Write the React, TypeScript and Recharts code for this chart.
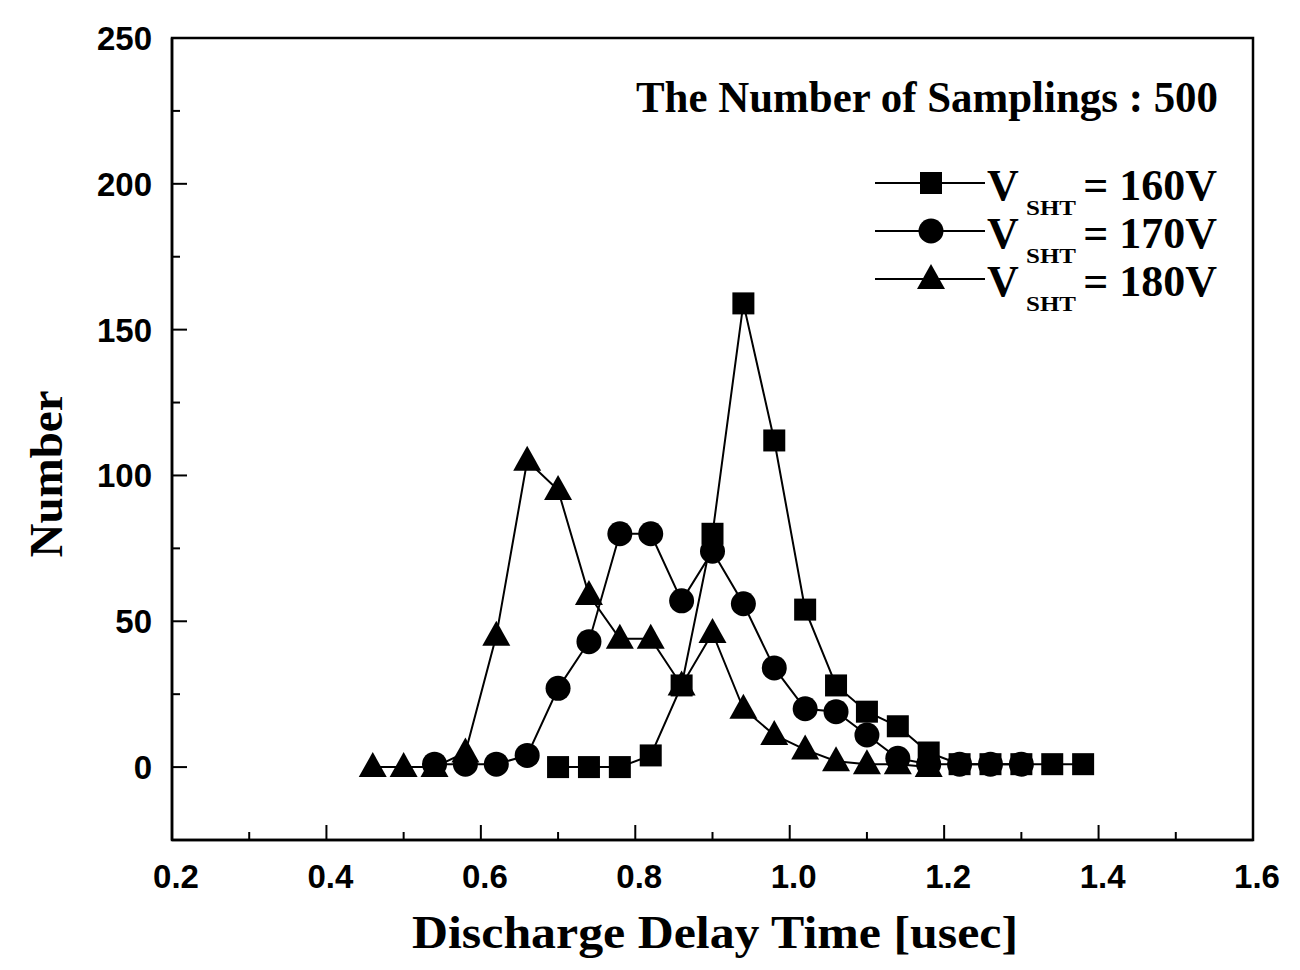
import React from 'react';
import { LineChart, Line, XAxis, YAxis, ReferenceArea } from 'recharts';

// delay time bins [usec]
const times160 = [0.7, 0.74, 0.78, 0.82, 0.86, 0.9, 0.94, 0.98, 1.02, 1.06, 1.1, 1.14, 1.18, 1.22, 1.26, 1.3, 1.34, 1.38];
const counts160 = [0, 0, 0, 4, 28, 80, 159, 112, 54, 28, 19, 14, 5, 1, 1, 1, 1, 1];

const times170 = [0.54, 0.58, 0.62, 0.66, 0.7, 0.74, 0.78, 0.82, 0.86, 0.9, 0.94, 0.98, 1.02, 1.06, 1.1, 1.14, 1.18, 1.22, 1.26, 1.3];
const counts170 = [1, 1, 1, 4, 27, 43, 80, 80, 57, 74, 56, 34, 20, 19, 11, 3, 1, 1, 1, 1];

const times180 = [0.46, 0.5, 0.54, 0.58, 0.62, 0.66, 0.7, 0.74, 0.78, 0.82, 0.86, 0.9, 0.94, 0.98, 1.02, 1.06, 1.1, 1.14, 1.18];
const counts180 = [0, 0, 0, 5, 45, 105, 95, 59, 44, 44, 28, 46, 20, 11, 6, 2, 1, 1, 0];

const xTicks = [0.2, 0.3, 0.4, 0.5, 0.6, 0.7, 0.8, 0.9, 1.0, 1.1, 1.2, 1.3, 1.4, 1.5, 1.6];
const yTicks = [0, 25, 50, 75, 100, 125, 150, 175, 200, 225, 250];

const legendLabels = ['160V', '170V', '180V'];
const title = 'The Number of Samplings : 500';

const toRows = (xs: number[], ys: number[]) => xs.map((t, i) => ({ t, n: ys[i] }));

const serif = '"Liberation Serif", "Times New Roman", serif';
const sans = '"Liberation Sans", Arial, sans-serif';

const Square = ({ cx, cy }: any) => <rect x={cx - 11} y={cy - 11} width={22} height={22} fill="#000" />;
const Circle = ({ cx, cy }: any) => <circle cx={cx} cy={cy} r={12.5} fill="#000" />;
const Triangle = ({ cx, cy }: any) => (
  <polygon points={`${cx},${cy - 15} ${cx - 14},${cy + 10} ${cx + 14},${cy + 10}`} fill="#000" />
);

const dotOf = (Shape: any) => (p: any) => <Shape key={`d-${p.index}`} cx={p.cx} cy={p.cy} />;

const XTick = ({ x, y, payload, index }: any) => {
  const major = index % 2 === 0;
  return (
    <g>
      <line x1={x} y1={y} x2={x} y2={y - (major ? 15 : 8)} stroke="#000" strokeWidth={2} />
      {major && (
        <text x={x + 4} y={y + 48} textAnchor="middle" fontFamily={sans} fontWeight="bold" fontSize={33} fill="#000">
          {Number(payload.value).toFixed(1)}
        </text>
      )}
    </g>
  );
};

const YTick = ({ x, y, payload }: any) => {
  const major = payload.value % 50 === 0;
  return (
    <g>
      <line x1={x} y1={y} x2={x + (major ? 15 : 8)} y2={y} stroke="#000" strokeWidth={2} />
      {major && (
        <text x={x - 20} y={y + 12} textAnchor="end" fontFamily={sans} fontWeight="bold" fontSize={33} fill="#000">
          {payload.value}
        </text>
      )}
    </g>
  );
};

const legendMarks = [Square, Circle, Triangle];

export default function App() {
  return (
    <div style={{ position: 'relative', width: 1284, height: 954 }}>
      <LineChart width={1284} height={954} margin={{ top: 30, right: 39, bottom: 62, left: 64 }}>
        <XAxis
          dataKey="t"
          type="number"
          domain={[0.2, 1.6]}
          ticks={xTicks}
          interval={0}
          allowDuplicatedCategory={false}
          height={60}
          tickSize={0}
          tickMargin={0}
          tickLine={false}
          axisLine={{ stroke: '#000', strokeWidth: 2.5 }}
          tick={<XTick />}
        />
        <YAxis
          type="number"
          domain={[-25, 250]}
          ticks={yTicks}
          interval={0}
          width={100}
          tickSize={0}
          tickMargin={0}
          tickLine={false}
          axisLine={{ stroke: '#000', strokeWidth: 2.5 }}
          tick={<YTick />}
        />
        <ReferenceArea x1={0.2} x2={1.6} y1={-25} y2={250} fill="none" stroke="#000" strokeWidth={2.5} />
        <Line data={toRows(times160, counts160)} dataKey="n" stroke="#000" strokeWidth={2} dot={dotOf(Square)} isAnimationActive={false} />
        <Line data={toRows(times170, counts170)} dataKey="n" stroke="#000" strokeWidth={2} dot={dotOf(Circle)} isAnimationActive={false} />
        <Line data={toRows(times180, counts180)} dataKey="n" stroke="#000" strokeWidth={2} dot={dotOf(Triangle)} isAnimationActive={false} />
      </LineChart>
      <svg width={1284} height={954} style={{ position: 'absolute', left: 0, top: 0, pointerEvents: 'none' }}>
        <text x={628} y={104} textLength={582} lengthAdjust="spacingAndGlyphs" fontFamily={serif} fontWeight="bold" fontSize={44} fill="#000">
          {title}
        </text>
        {legendLabels.map((lab, i) => {
          const ry = 175 + i * 48;
          const Mark = legendMarks[i];
          return (
            <g key={lab}>
              <line x1={867} y1={ry} x2={977} y2={ry} stroke="#000" strokeWidth={2} />
              <Mark cx={923} cy={ry} />
              <text x={979} y={ry + 17} fontFamily={serif} fontWeight="bold" fontSize={44} fill="#000">V</text>
              <text x={1018} y={ry + 32} textLength={50} lengthAdjust="spacingAndGlyphs" fontFamily={serif} fontWeight="bold" fontSize={22} fill="#000">SHT</text>
              <text x={1209} y={ry + 17} textAnchor="end" fontFamily={serif} fontWeight="bold" fontSize={44} fill="#000">
                {`= ${lab}`}
              </text>
            </g>
          );
        })}
        <text
          x={0}
          y={0}
          transform="translate(54,466) rotate(-90)"
          textAnchor="middle"
          fontFamily={serif}
          fontWeight="bold"
          fontSize={47}
          fill="#000"
        >
          Number
        </text>
        <text x={404} y={940} textLength={606} lengthAdjust="spacingAndGlyphs" fontFamily={serif} fontWeight="bold" fontSize={46} fill="#000">
          Discharge Delay Time [usec]
        </text>
      </svg>
    </div>
  );
}
